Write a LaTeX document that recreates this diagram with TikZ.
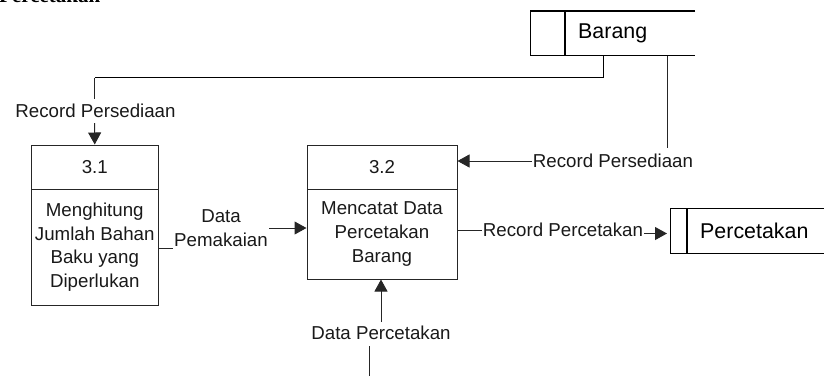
\documentclass[tikz,border=0pt]{standalone}
\usepackage{fontspec}
\setmainfont{Liberation Sans}
\newfontfamily\serifbold[Ligatures=TeX]{Liberation Serif}
\usetikzlibrary{arrows.meta}
\tikzset{
  lbl/.style={inner xsep=1pt,inner ysep=2pt,font=\fontsize{18.7}{23.6}\selectfont,align=center,text=black!90},
  sto/.style={inner sep=0pt,font=\fontsize{21.4}{24}\selectfont,anchor=west},
  flow/.style={draw=black!85,line width=1pt},
  arr/.style={flow,-{Triangle[length=12pt,width=13pt]}},
  boxline/.style={draw=black!85,line width=1pt},
  stoline/.style={draw=black,line width=1.3pt}
}
\begin{document}
\begin{tikzpicture}[x=1pt,y=-1pt]
\useasboundingbox (0,0) rectangle (824,376);
\clip (0,0) rectangle (824,376);
% clipped heading
\node[anchor=base west,inner sep=0pt,font=\serifbold\bfseries\fontsize{21}{24}\selectfont] (head) at (-1,2) {Percetakan};
% processes
\node[boxline,draw,minimum width=127.5pt,minimum height=44pt,anchor=north west,inner sep=0pt,lbl] (p1h) at (30.5,144.5) {3.1};
\node[boxline,draw,minimum width=127.5pt,minimum height=116.5pt,anchor=north west,inner sep=0pt,lbl] (p1b) at (30.5,188.5) {Menghitung\\Jumlah Bahan\\Baku yang\\Diperlukan};
\node[boxline,draw,minimum width=150pt,minimum height=44pt,anchor=north west,inner sep=0pt,lbl] (p2h) at (306.5,144.5) {3.2};
\node[boxline,draw,minimum width=150pt,minimum height=90pt,anchor=north west,inner sep=0pt,lbl] (p2b) at (306.5,188.5) {Mencatat Data\\Percetakan\\Barang};
% stores
\node[sto] (barang) at (578,33) {Barang};
\node[sto] (perc) at (700,231) {Percetakan};
\coordinate (b1) at (530.5,11); \coordinate (b2) at (695,11);
\coordinate (b3) at (530.5,55.5); \coordinate (b4) at (695,55.5);
\coordinate (bd1) at (565,11); \coordinate (bd2) at (565,55.5);
\draw[stoline] (b2) -- (b1) -- (b3) -- (b4);
\draw[stoline] (bd1) -- (bd2);
\coordinate (c1) at (824,208.5); \coordinate (c2) at (670.5,208.5);
\coordinate (c3) at (670.5,253.5); \coordinate (c4) at (824,253.5);
\coordinate (cd1) at (687,208.5); \coordinate (cd2) at (687,253.5);
\draw[stoline] (c1) -- (c2) -- (c3) -- (c4);
\draw[stoline] (cd1) -- (cd2);
% labels
\node[lbl] (l1) at (95.5,111) {Record Persediaan};
\node[lbl] (l2) at (613,161) {Record Persediaan};
\node[lbl] (l3) at (221,228) {Data\\Pemakaian};
\node[lbl] (l4) at (563,230) {Record Percetakan};
\node[lbl] (l5) at (381,333) {Data Percetakan};
% connectors
\coordinate (f1a) at (603.5,55.5); \coordinate (f1b) at (603.5,77.5); \coordinate (f1c) at (94.5,77.5);
\coordinate (f1d) at (94.5,99); \coordinate (f1e) at (94.5,123);
\draw[stoline] (f1a) -- (f1b) -- (f1c);
\draw[flow] (f1c) -- (f1d);
\draw[arr] (f1e) -- (p1h.north);
\coordinate (f2a) at (667.5,55.5); \coordinate (f2b) at (667.5,148);
\draw[flow] (f2a) -- (f2b);
\draw[arr] (l2.west) -- (l2.west -| p2h.east);
\coordinate (f3a) at (158,248);
\draw[flow] (f3a) -- (l3.west |- f3a);
\coordinate (f3b) at (269,228);
\draw[arr] (f3b) -- (p2b.west |- f3b);
\draw[flow] (p2b.east |- l4.west) -- (l4.west);
\coordinate (f4a) at (644,233.5); \coordinate (f4b) at (667,233.5);
\draw[arr] (f4a) -- (f4b);
\coordinate (f5a) at (369.5,376); \coordinate (f5b) at (369.5,346);
\draw[flow] (f5a) -- (f5b);
\coordinate (f5c) at (381,322);
\draw[arr] (f5c) -- (f5c |- p2b.south);
\end{tikzpicture}
\end{document}
